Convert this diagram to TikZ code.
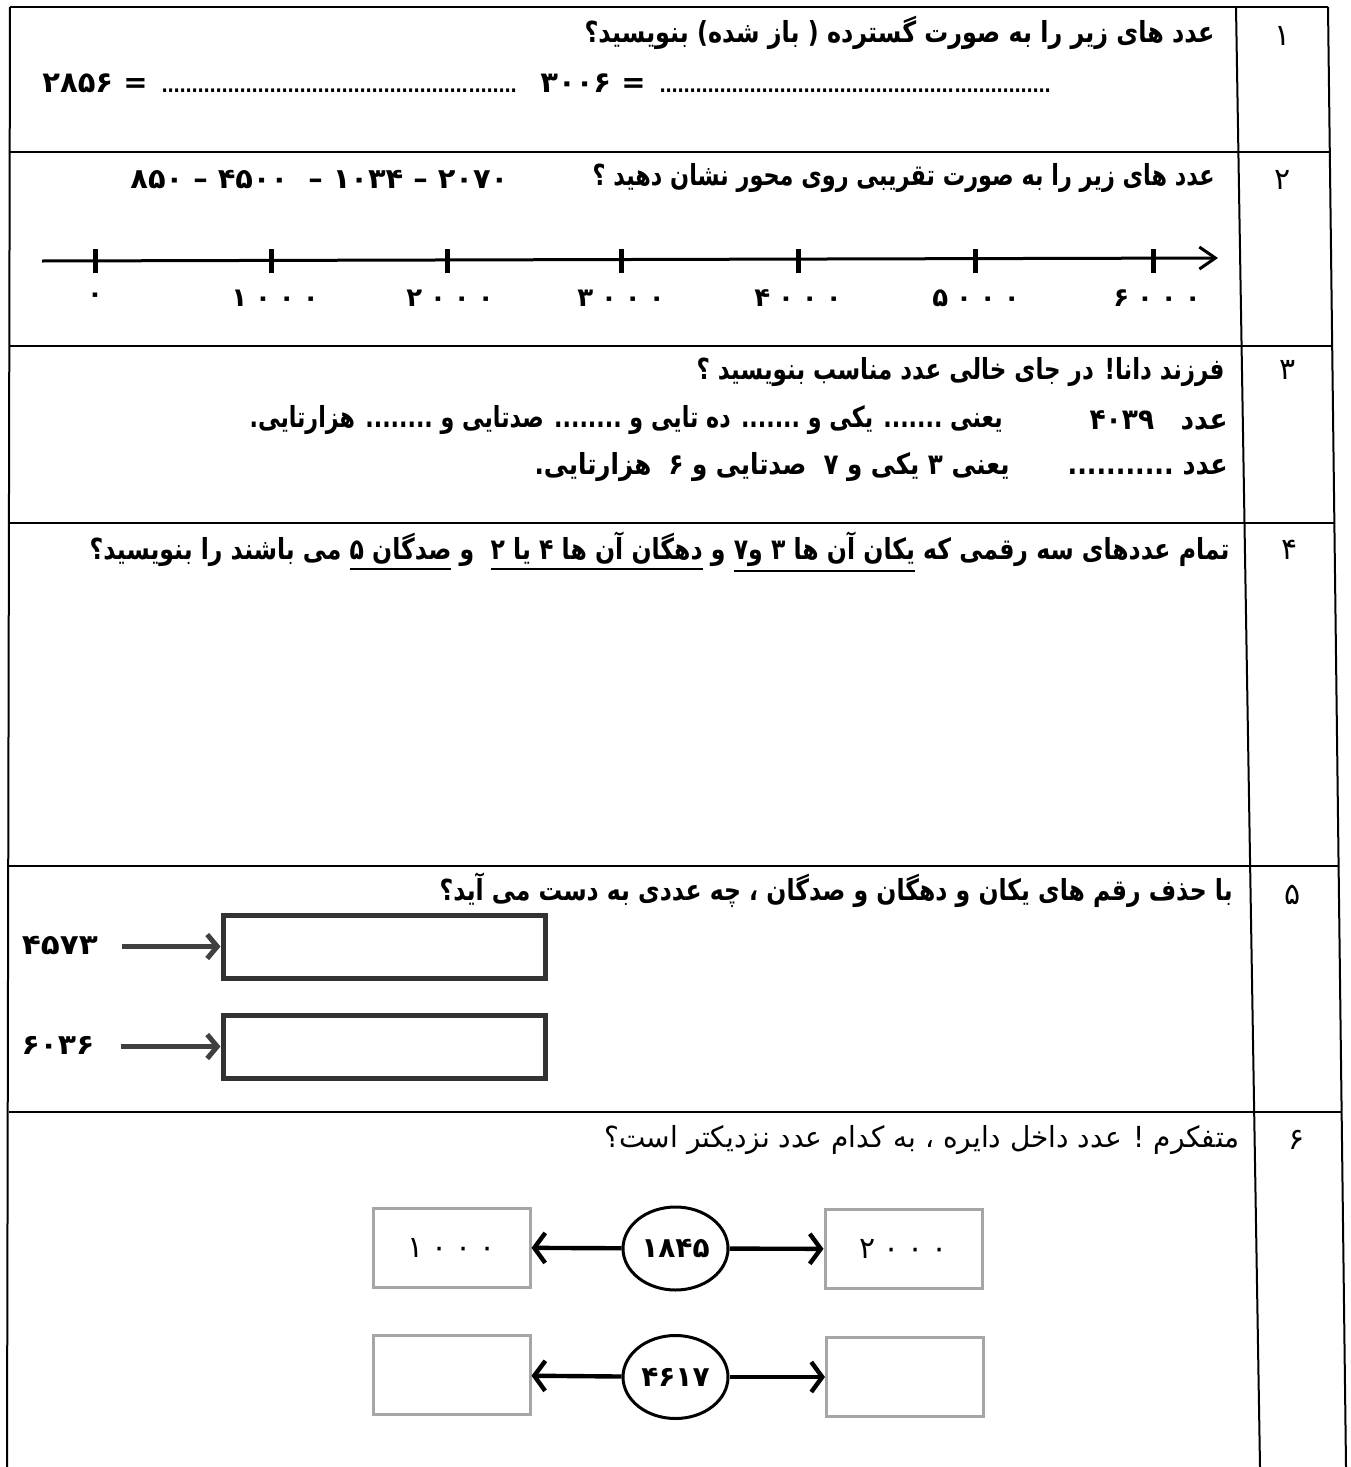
\documentclass[tikz,border=0pt]{standalone}
\usepackage{fontspec}
\usepackage{graphicx}
\usetikzlibrary{arrows.meta,shapes.geometric}
\TeXXeTstate=1
\newfontfamily\fa[Script=Arabic]{DejaVu Sans}
\newdimen\unitpx \unitpx=0.5pt
\newcommand\fitw[2]{\resizebox{#1\unitpx}{\height}{#2}}
\newcommand\rl[1]{\beginR #1\endR}
\newcommand\mydots{{\mdseries\leaders\hbox to 3pt{\hss.\hss}\hfill}}
\newcommand\sk{\kern4pt}
\newcommand\ulpart[1]{\vtop{\hbox{\beginR #1\endR}\kern1.5pt\hrule height 1pt}}
\tikzset{
  txt/.style={inner sep=0pt, font=\fa\bfseries\fontsize{14.5}{17}\selectfont},
  txtr/.style={inner sep=0pt, font=\fa\fontsize{14.5}{17}\selectfont},
  txtb/.style={inner sep=0pt, font=\fa\bfseries\fontsize{14}{17}\selectfont},
  lab/.style={inner sep=0pt, font=\fa\bfseries\fontsize{13}{16}\selectfont},
  rn/.style={inner sep=0pt, font=\fa\fontsize{15}{17}\selectfont},
  grid/.style={line width=1pt, black},
  axisline/.style={line width=1.5pt, -{Straight Barb[length=8pt,width=11pt]}},
  tickmark/.style={line width=2.5pt},
  box5/.style={draw=black!80, line width=2.5pt, minimum width=161pt, minimum height=31.5pt, inner sep=0pt},
  arr5/.style={draw=black!75, line width=2.5pt, -{Straight Barb[length=5pt,width=12pt]}},
  box6/.style={draw=black!35, line width=1.5pt, minimum width=78.5pt, minimum height=39.5pt, inner sep=0pt, font=\fa\fontsize{15}{17}\selectfont},
  circ/.style={ellipse, draw, line width=1.5pt, minimum width=52.5pt, minimum height=41.5pt, inner sep=0pt, font=\fa\bfseries\fontsize{14}{16}\selectfont},
  arr6/.style={draw, line width=2.2pt, -{Straight Barb[length=5.5pt,width=15pt]}},
}
\begin{document}
\begin{tikzpicture}[x=0.5pt,y=-0.5pt]
\useasboundingbox (0,0) rectangle (1350,1467);
\fill[white] (0,0) rectangle (1350,1467);
% ---------------- table frame
\draw[grid] (10,7) -- (1328,7);
\draw[grid] (10,7) -- (7,1467);
\draw[grid] (1236,7) -- (1260,1467);
\draw[grid] (1328,7) -- (1346,1467);
\foreach \yy/\xr in {152/1330,346/1332,523/1334,866/1339,1112/1342}
  \draw[grid, line width=1.2pt] (9,\yy) -- (\xr,\yy);

% ---------------- row 1
\node[rn] (n1) at (1283,36) {۱};
\node[txt, anchor=east] (q1) at (1215,33) {\fitw{630}{\rl{عدد های زیر را به صورت گسترده ( باز شده) بنویسید؟}}};
\node[txt, anchor=west] (a1) at (42,83) {\makebox[476\unitpx][l]{\beginR\beginL ۲۸۵۶ = \endL\endR\mydots}};
\node[txt, anchor=west] (a2) at (540,83) {\makebox[515\unitpx][l]{\beginR\beginL ۳۰۰۶ = \endL\endR\mydots}};

% ---------------- row 2
\node[rn] (n2) at (1283,180) {۲};
\node[txt, anchor=east] (q2) at (1215,178) {\fitw{622}{\rl{عدد های زیر را به صورت تقریبی روی محور نشان دهید ؟}}};
\node[txtb, anchor=west] (nums) at (130,180) {\fitw{378}{\beginR\beginL ۸۵۰ – ۴۵۰۰ \ – ۱۰۳۴ – ۲۰۷۰\endL\endR}};
\coordinate (ax0) at (42,261);
\coordinate (ax1) at (1218,258);
\draw[axisline] (ax0) -- (ax1);
\foreach \xx in {95,271,447,621,798,975,1153}
  \draw[tickmark] (\xx,249) -- (\xx,273);
\node[lab] (t0) at (95,298) {۰};
\node[lab] (t1) at (275,298) {۱\sk۰\sk۰\sk۰};
\node[lab] (t2) at (450,298) {۲\sk۰\sk۰\sk۰};
\node[lab] (t3) at (621,298) {۳\sk۰\sk۰\sk۰};
\node[lab] (t4) at (798,298) {۴\sk۰\sk۰\sk۰};
\node[lab] (t5) at (976,298) {۵\sk۰\sk۰\sk۰};
\node[lab] (t6) at (1157,298) {۶\sk۰\sk۰\sk۰};

% ---------------- row 3
\node[rn] (n3) at (1288,370) {۳};
\node[txt, anchor=east] (q3) at (1225,372) {\fitw{528}{\rl{فرزند دانا! در جای خالی عدد مناسب بنویسید ؟}}};
\node[txt, anchor=east] (l3a) at (1228,420) {\fitw{138}{\rl{عدد\quad ۴۰۳۹}}};
\node[txt, anchor=east] (l3b) at (1003,420) {\fitw{753}{\rl{یعنی ....... یکی و ....... ده تایی و ........ صدتایی و ........ هزارتایی.}}};
\node[txt, anchor=east] (l3c) at (1228,467) {\fitw{160}{\rl{عدد ...........}}};
\node[txt, anchor=east] (l3d) at (1010,467) {\fitw{475}{\rl{یعنی ۳ یکی و ۷ \ صدتایی و ۶ \ هزارتایی.}}};

% ---------------- row 4
\node[rn] (n4) at (1290,550) {۴};
\node[txt, anchor=east] (q4) at (1230,552) {\fitw{1140}{\rl{تمام عددهای سه رقمی که \ulpart{یکان آن ها ۳ و۷} و \ulpart{دهگان آن ها ۴ یا ۲} \ و \ulpart{صدگان ۵} می باشند را بنویسید؟}}};

% ---------------- row 5
\node[rn] (n5) at (1293,895) {۵};
\node[txt, anchor=east] (q5) at (1233,890) {\fitw{793}{\rl{با حذف رقم های یکان و دهگان و صدگان ، چه عددی به دست می آید؟}}};
\node[txtb] (v1) at (60,945) {\fitw{76}{۴۵۷۳}};
\node[box5] (b1) at (384,946.5) {};
\draw[arr5, shorten <=12pt] (v1.east |- b1.west) -- (b1.west);
\node[txtb] (v2) at (58,1045) {\fitw{73}{۶۰۳۶}};
\node[box5] (b2) at (384,1046.5) {};
\draw[arr5, shorten <=13pt] (v2.east |- b2.west) -- (b2.west);

% ---------------- row 6
\node[rn] (n6) at (1297,1140) {۶};
\node[txtr, anchor=east] (q6) at (1240,1140) {\fitw{635}{\rl{متفکرم ! عدد داخل دایره ، به کدام عدد نزدیکتر است؟}}};
\node[box6] (c1) at (451.5,1247.5) {۱\sk۰\sk۰\sk۰};
\node[circ] (e1) at (675.5,1248.5) {۱۸۴۵};
\node[box6] (c2) at (903.5,1249) {۲\sk۰\sk۰\sk۰};
\draw[arr6] (e1) -- (c1);
\draw[arr6] (e1) -- (c2);
\node[box6] (c3) at (451.5,1375) {};
\node[circ] (e2) at (675.5,1377) {۴۶۱۷};
\node[box6] (c4) at (905,1377) {};
\draw[arr6] (e2) -- (c3);
\draw[arr6] (e2) -- (c4);
\end{tikzpicture}
\end{document}
